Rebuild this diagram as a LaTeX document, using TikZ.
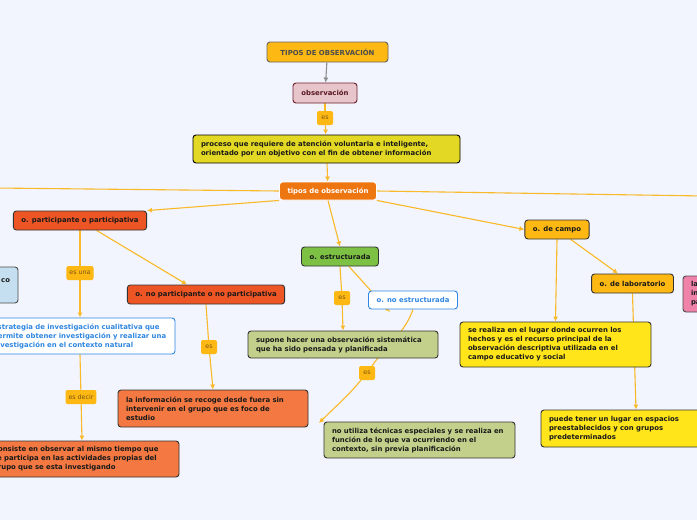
\documentclass[tikz,border=0pt]{standalone}
\usepackage{fontspec}
\setmainfont{DejaVu Sans}
\usepackage{tikz}
\usetikzlibrary{positioning,calc,arrows.meta}
\usepackage{xcolor}

\definecolor{cFondo}{HTML}{F2F5FD}
\definecolor{cLinea}{HTML}{F9B928}
\definecolor{cAmbar}{HTML}{FDB813}
\definecolor{cRosaObs}{HTML}{E8C5CB}
\definecolor{cGranate}{HTML}{6E1E2C}
\definecolor{cOliva}{HTML}{E3D824}
\definecolor{cNaranja}{HTML}{EE7611}
\definecolor{cRojizo}{HTML}{EE5524}
\definecolor{cAzul}{HTML}{2F86E0}
\definecolor{cSalmon}{HTML}{F37841}
\definecolor{cVerde}{HTML}{7CC143}
\definecolor{cSalvia}{HTML}{C3D08B}
\definecolor{cAmarillo}{HTML}{FFE51A}
\definecolor{cRosa}{HTML}{F082AA}
\definecolor{cCeleste}{HTML}{C6DFF0}
\definecolor{cBorde}{HTML}{333333}
\definecolor{cCafe}{HTML}{7A5510}

\pgfdeclarelayer{fondo}
\pgfdeclarelayer{lineas}
\pgfsetlayers{fondo,lineas,main}

\begin{document}
\begin{tikzpicture}[x=1pt,y=-1pt]
  % Styles local to this figure.
  \tikzset{
    caja/.style={draw=cBorde,line width=0.9pt,rounded corners=3pt,inner xsep=8pt,inner ysep=0pt,
      font=\fontsize{6.9}{9}\selectfont\bfseries,text=black!90},
    cajatxt/.style={caja,align=left,text width=#1-16pt,minimum height=0pt},
    etiq/.style={fill=cAmbar,rounded corners=2pt,inner xsep=3pt,inner ysep=0pt,minimum height=14pt,
      minimum width=16pt,font=\fontsize{6.3}{7}\selectfont,text=cCafe},
    conn/.style={draw=cLinea,line width=1.1pt,-{Latex[length=5pt,width=5pt]}},
    enlace/.style={draw=cLinea,line width=1.1pt}
  }

  % Page and its margins.
  \begin{pgfonlayer}{fondo}
    \fill[cFondo] (0,0) rectangle (697,520);
  \end{pgfonlayer}
  \useasboundingbox (0,0) rectangle (697,520);

  % Top chain.
  \node[caja,fill=cAmbar,draw=black!60,text=black!70,minimum width=121pt,minimum height=20pt] (titulo) at (327.5,52) {TIPOS DE OBSERVACIÓN};
  \node[caja,fill=cRosaObs,draw=cGranate,text=cGranate!80!black,minimum width=64pt,minimum height=20pt] (obs) at (325,93) {observación};
  \node[etiq] (es1) at (325,118) {es};
  \node[cajatxt=267pt,fill=cOliva,draw=black,minimum height=28pt] (proceso) at (326.5,149)
    {proceso que requiere de atención voluntaria e inteligente,\\orientado por un objetivo con el fin de obtener información};
  \node[caja,fill=cNaranja,draw=white,text=white,minimum width=96pt,minimum height=18pt] (tipos) at (328,191) {tipos de observación};

  % Nodes cut off at the page edges.
  \coordinate (fueraIzq) at (-5,188);
  \coordinate (fueraDer) at (705,196);
  \node[cajatxt=96pt,fill=cCeleste,draw=black!70,align=right,minimum height=36pt] (celeste) at (-30,285) {co\\~};
  \node[cajatxt=100pt,fill=cRosa,draw=black!70,minimum height=36pt] (rosa) at (733,294) {la\\in\\pa};

  % Participant branch.
  \node[caja,fill=cRojizo,minimum width=132pt,minimum height=19pt] (particip) at (80,220.5) {o. participante o participativa};
  \node[etiq] (esuna) at (80,273) {es una};
  \node[cajatxt=190pt,fill=white,draw=cAzul,text=cAzul,minimum height=36pt] (estrategia) at (80,336)
    {Estrategia de investigación cualitativa que\\permite obtener investigación y realizar una\\investigación en el contexto natural};
  \node[etiq] (esdecir) at (81,397) {es decir};
  \node[cajatxt=194pt,fill=cSalmon,minimum height=36pt] (consiste) at (82,459)
    {Consiste en observar al mismo tiempo que\\se participa en las actividades propias del\\grupo que se esta investigando};
  \node[caja,fill=cRojizo,minimum width=156pt,minimum height=19pt] (noparticip) at (206,294.5) {o. no participante o no participativa};
  \node[etiq] (es2) at (209,347) {es};
  \node[cajatxt=190pt,fill=cSalmon,minimum height=37pt] (info) at (213,408.5)
    {la información se recoge desde fuera sin\\intervenir en el grupo que es foco de\\estudio};

  % Structured branch.
  \node[caja,fill=cVerde,minimum width=76pt,minimum height=19pt] (estruct) at (340,256.5) {o. estructurada};
  \node[etiq] (es3) at (342,298) {es};
  \node[caja,fill=white,draw=cAzul,text=cAzul,minimum width=88pt,minimum height=18pt] (noestruct) at (413,300) {o. no estructurada};
  \coordinate (puntaNoEst) at (390,312);
  \node[cajatxt=190pt,fill=cSalvia,minimum height=27pt] (supone) at (343,344.5)
    {supone hacer una observación sistemática\\que ha sido pensada y planificada};
  \node[etiq] (es4) at (367,373) {es};
  \coordinate (puntaNoUt) at (319,423);
  \node[cajatxt=191pt,fill=cSalvia,minimum height=36pt] (noutiliza) at (419.5,440)
    {no utiliza técnicas especiales y se realiza en\\función de lo que va ocurriendo en el\\contexto, sin previa planificación};

  % Field branch.
  \node[caja,fill=cAmbar,minimum width=64pt,minimum height=19pt] (campo) at (557,229.5) {o. de campo};
  \node[caja,fill=cAmbar,minimum width=81pt,minimum height=19pt] (lab) at (632.5,283.5) {o. de laboratorio};
  \node[cajatxt=191pt,fill=cAmarillo,minimum height=45pt] (realiza) at (555.5,344.5)
    {se realiza en el lugar donde ocurren los\\hechos y es el recurso principal de la\\observación descriptiva utilizada en el\\campo educativo y social};
  \node[cajatxt=190pt,fill=cAmarillo,minimum height=37pt] (puede) at (636,428.5)
    {puede tener un lugar en espacios\\preestablecidos y con grupos\\predeterminados};

  % Connectors, drawn under the boxes.
  \begin{pgfonlayer}{lineas}
    \draw[draw=black!45,line width=1.1pt,-{Latex[length=5pt,width=5pt]}] (titulo) -- (obs);
    \draw[enlace] (obs) -- (es1);
    \draw[conn] (es1) -- (proceso);
    \draw[conn] (proceso) -- (tipos);
    \draw[enlace] (tipos.west) -- (fueraIzq);
    \draw[enlace] (tipos.east) -- (fueraDer);
    \draw[conn] (tipos.south west) -- (particip.north east);
    \draw[conn] (tipos.south) -- (estruct.north);
    \draw[conn] (tipos.south east) -- (campo.west);

    \draw[enlace] (particip.south) -- (esuna);
    \draw[conn] (esuna) -- (estrategia.north);
    \draw[enlace] (estrategia.south) -- (esdecir);
    \draw[conn] (esdecir) -- (consiste.north);
    \draw[conn] (particip) -- ([xshift=-19pt]noparticip.north);
    \draw[enlace] (noparticip.south) -- (es2);
    \draw[conn] (es2) -- (info.north);

    \draw[enlace] (estruct.south) -- (es3);
    \draw[conn] (es3) -- (supone.north);
    \draw[conn] (estruct) -- (puntaNoEst);
    \draw[enlace] (noestruct.south) to[out=-110,in=55] (es4);
    \draw[conn] (es4) to[out=-130,in=45] (puntaNoUt);

    \draw[conn] (campo) -- ([xshift=-14.5pt]lab.north);
    \draw[conn] (campo.south) -- (realiza.north);
    \draw[conn] (lab.south) -- (puede.north);
  \end{pgfonlayer}
\end{tikzpicture}
\end{document}
